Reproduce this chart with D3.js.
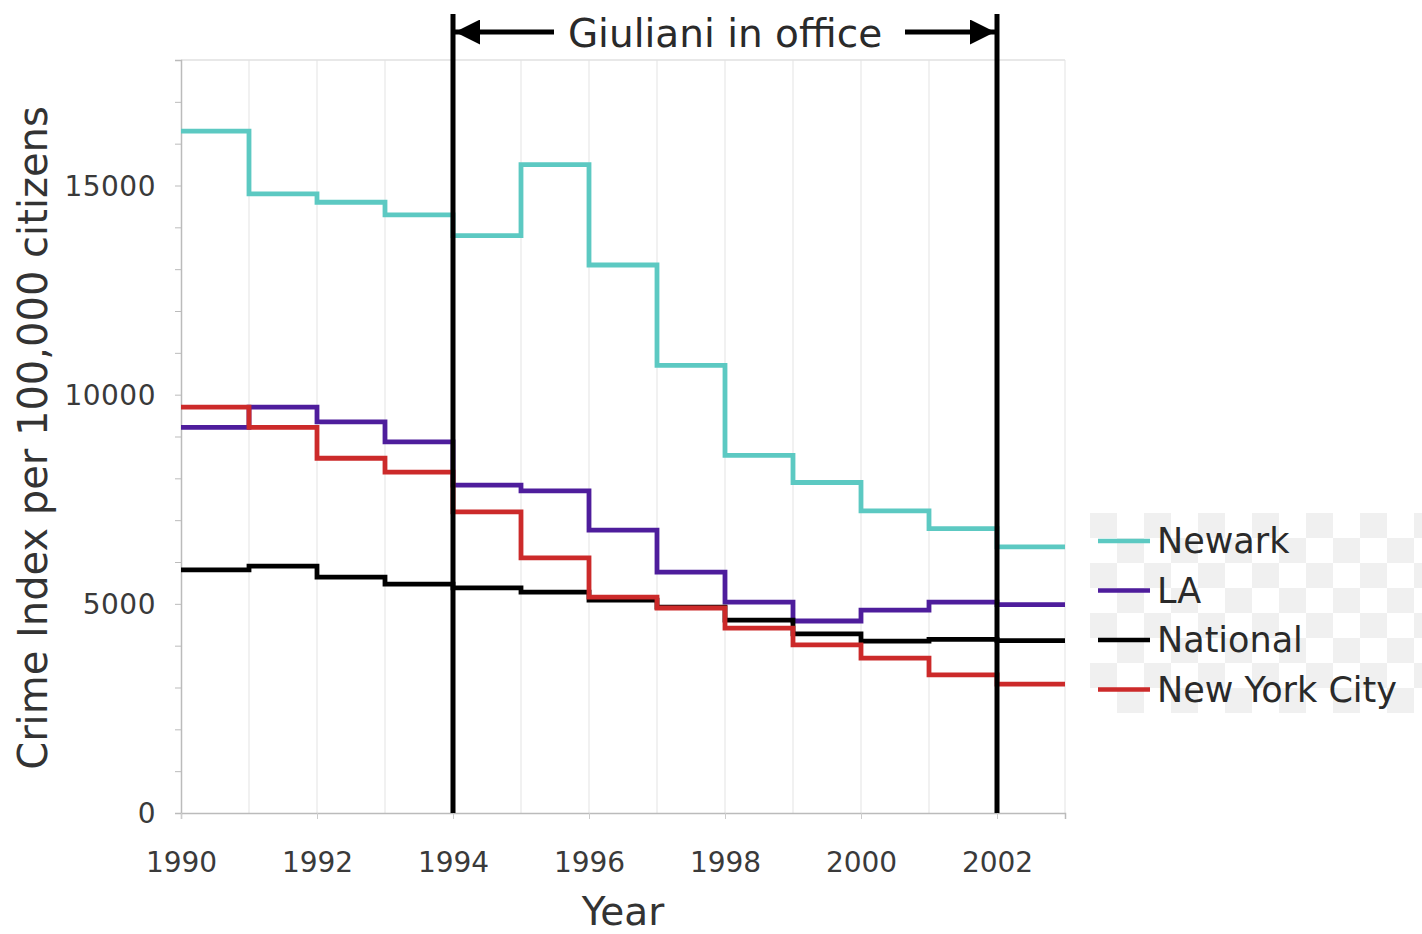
<!DOCTYPE html>
<html><head><meta charset="utf-8">
<script src="https://cdn.jsdelivr.net/npm/d3@7"></script>
<style>body{margin:0;background:#fff}svg{display:block}text{font-family:"DejaVu Sans",Verdana,sans-serif}</style>
</head><body><svg id="c" width="1422" height="934"></svg>
<script>
const years = [1990,1991,1992,1993,1994,1995,1996,1997,1998,1999,2000,2001,2002];
const newark = [16300,14800,14600,14300,13800,15500,13100,10700,8550,7900,7220,6800,6360];
const la = [9220,9700,9350,8870,7840,7700,6760,5760,5040,4590,4850,5040,4980];
const national = [5810,5900,5640,5470,5380,5280,5090,4920,4610,4280,4110,4150,4120];
const nyc = [9700,9220,8480,8150,7200,6100,5160,4900,4420,4020,3700,3300,3080];
const seriesNames = ["Newark","LA","National","New York City"];
const seriesColors = ["#5cc9c2","#4e1d9c","#000000","#cc2a2a"];
const seriesData = [newark, la, national, nyc];
const xTicks = [1990,1992,1994,1996,1998,2000,2002];
const yTicks = [0,5000,10000,15000];
const officeYears = [1994,2002];

const svg = d3.select("#c");
const x = d3.scaleLinear().domain([1990,2003]).range([181,1065]);
const y = d3.scaleLinear().domain([0,18000]).range([813,60]);

// checker artifact behind legend
const chk = svg.append("g");
for (let i=0;i<13;i++) for (let j=0;j<8;j++) if ((i+j)%2===0)
  chk.append("rect").attr("x",1090+i*27).attr("y",513+j*25).attr("width",27).attr("height",25).attr("fill","#f0f0f0");

// grid
const g = svg.append("g");
g.selectAll(".vg").data(d3.range(1991,2004)).join("line")
 .attr("x1",d=>x(d)).attr("x2",d=>x(d)).attr("y1",y(18000)).attr("y2",y(0))
 .attr("stroke","#e8e8e8").attr("stroke-width",1.2);
g.append("line").attr("x1",x(1990)).attr("x2",x(2003)).attr("y1",y(18000)).attr("y2",y(18000)).attr("stroke","#e0e0e0").attr("stroke-width",1.5);

// axes
const yAxis = d3.axisLeft(y).tickValues(d3.range(0,18001,1000)).tickSize(6).tickFormat(d=>yTicks.includes(d)?d:"");
const ya = svg.append("g").attr("transform",`translate(${x(1990)},0)`).call(yAxis);
ya.select(".domain").attr("stroke","#bbb").attr("stroke-width",1.5);
ya.selectAll(".tick line").attr("stroke","#bbb");
ya.selectAll("text").attr("font-size",28).attr("fill","#3a3a3a").attr("x",-25).attr("dy","0.35em")
  .attr("letter-spacing","0.5px").attr("font-family","'DejaVu Sans',sans-serif");

const xAxis = d3.axisBottom(x).tickValues(xTicks).tickSize(6).tickFormat(d3.format("d"));
const xa = svg.append("g").attr("transform",`translate(0,${y(0)})`).call(xAxis);
xa.select(".domain").attr("stroke","#bbb").attr("stroke-width",1.5);
xa.selectAll(".tick line").attr("stroke","#ccc");
xa.selectAll("text").attr("font-size",28).attr("fill","#3a3a3a").attr("y",49).attr("dy","0.35em")
  .attr("font-family","'DejaVu Sans',sans-serif");

// series step lines
const line = d3.line().x(d=>x(d[0])).y(d=>y(d[1])).curve(d3.curveStepAfter);
seriesData.forEach((vals,i)=>{
  const pts = years.map((yr,k)=>[yr,vals[k]]);
  pts.push([years[years.length-1]+1, vals[vals.length-1]]);
  svg.append("path").datum(pts).attr("d",line).attr("fill","none")
    .attr("stroke",seriesColors[i]).attr("stroke-width",4.8).attr("stroke-linejoin","miter");
});

// office lines
svg.selectAll(".ol").data(officeYears).join("line")
 .attr("x1",d=>x(d)).attr("x2",d=>x(d)).attr("y1",14).attr("y2",y(0))
 .attr("stroke","#000").attr("stroke-width",5);

// arrows
const defs = svg.append("defs");
defs.append("marker").attr("id","ah").attr("viewBox","0 0 10 10").attr("refX",10).attr("refY",5)
 .attr("markerWidth",5.6).attr("markerHeight",5).attr("markerUnits","strokeWidth").attr("orient","auto")
 .append("path").attr("d","M0,0L10,5L0,10Z").attr("fill","#000");
const ay = 32;
svg.append("line").attr("x1",554).attr("x2",x(1994)+2).attr("y1",ay).attr("y2",ay)
 .attr("stroke","#000").attr("stroke-width",5).attr("marker-end","url(#ah)");
svg.append("line").attr("x1",905).attr("x2",x(2002)-2).attr("y1",ay).attr("y2",ay)
 .attr("stroke","#000").attr("stroke-width",5).attr("marker-end","url(#ah)");
svg.append("text").attr("x",725).attr("y",47).attr("text-anchor","middle").attr("font-size",39)
 .attr("fill","#2a2a2a").text("Giuliani in office");

// axis titles
svg.append("text").attr("x",623).attr("y",925).attr("text-anchor","middle").attr("font-size",39)
 .attr("fill","#333").text("Year");
svg.append("text").attr("transform","translate(47,438) rotate(-90)").attr("text-anchor","middle")
 .attr("font-size",40).attr("fill","#333").text("Crime Index per 100,000 citizens");

// legend
const lg = svg.append("g");
seriesNames.forEach((n,i)=>{
  const yy = 541 + i*49.5;
  lg.append("line").attr("x1",1098).attr("x2",1150).attr("y1",yy).attr("y2",yy)
    .attr("stroke",seriesColors[i]).attr("stroke-width",4.5);
  lg.append("text").attr("x",1157).attr("y",yy+12).attr("font-size",35).attr("fill","#2a2a2a").text(n);
});
</script></body></html>
